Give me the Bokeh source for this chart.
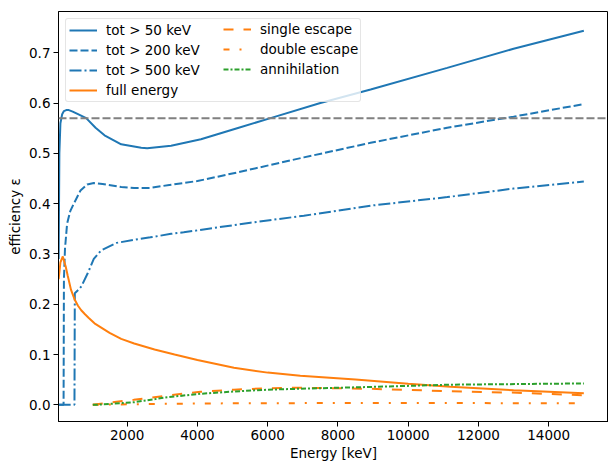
import numpy as np
from bokeh.plotting import figure
from bokeh.models import Range1d, FixedTicker, PrintfTickFormatter, Span, Legend, LegendItem
from bokeh.embed import file_html
from bokeh.resources import INLINE

# ---------------- data ----------------
e_tot50 = [50, 70, 100, 150, 200, 265, 340, 450, 600, 834, 1100, 1355, 1830, 2400, 2570,
           3250, 4100, 5130, 6080, 7500, 8930, 11110, 13000, 15000]
eff_tot50 = [0.29, 0.50, 0.56, 0.578, 0.584, 0.586, 0.586, 0.583, 0.578, 0.570, 0.551, 0.536,
             0.518, 0.511, 0.510, 0.515, 0.528, 0.550, 0.570, 0.600, 0.627, 0.670, 0.708, 0.744]

e_tot200 = [50, 190, 200, 230, 290, 380, 481, 672, 862, 1052, 1300, 1830, 2200, 2600, 3200,
            4000, 5130, 7030, 8930, 11110, 13000, 15000]
eff_tot200 = [0.0, 0.0, 0.25, 0.31, 0.36, 0.385, 0.400, 0.426, 0.438, 0.441, 0.439, 0.433,
              0.431, 0.431, 0.437, 0.445, 0.462, 0.492, 0.521, 0.551, 0.573, 0.598]

e_tot500 = [50, 500, 510, 620, 700, 880, 1050, 1260, 1700, 2200, 2660, 3250, 3610, 4500,
            5510, 7030, 8930, 11110, 13000, 15000]
eff_tot500 = [0.0, 0.0, 0.222, 0.229, 0.236, 0.262, 0.290, 0.307, 0.322, 0.328, 0.333, 0.340,
              0.343, 0.352, 0.362, 0.376, 0.396, 0.413, 0.430, 0.444]

e_full = [50, 100, 168, 250, 310, 400, 501, 600, 692, 800, 900, 1070, 1500, 1830, 2200, 2780,
          3350, 4000, 5040, 6000, 6930, 8500, 10000, 11200, 13000, 15000]
eff_full = [0.250, 0.283, 0.295, 0.275, 0.256, 0.229, 0.210, 0.197, 0.188, 0.180, 0.173,
            0.162, 0.143, 0.131, 0.122, 0.110, 0.100, 0.089, 0.0735, 0.064, 0.058, 0.0505,
            0.042, 0.036, 0.029, 0.023]

e_single = [1022, 1241, 1700, 2189, 3140, 4089, 5038, 5987, 6936, 7885, 8832, 11204, 13103, 15000]
eff_single = [0.0, 0.002, 0.006, 0.010, 0.0185, 0.026, 0.030, 0.033, 0.034, 0.033, 0.032,
              0.027, 0.024, 0.019]

e_double = [1022, 2000, 3000, 5000, 8000, 11000, 15000]
eff_double = [0.0, 0.001, 0.002, 0.003, 0.0035, 0.0035, 0.003]

e_annih = [1022, 1241, 2189, 3140, 4089, 5038, 5987, 6936, 8642, 11204, 15000]
eff_annih = [0.0, 0.0005, 0.005, 0.015, 0.022, 0.0265, 0.030, 0.032, 0.035, 0.040, 0.0425]

ref_level = 0.57

x_ticks = [2000, 4000, 6000, 8000, 10000, 12000, 14000]
y_ticks = [0.0, 0.1, 0.2, 0.3, 0.4, 0.5, 0.6, 0.7]

labels_col1 = ["tot > 50 keV", "tot > 200 keV", "tot > 500 keV", "full energy"]
labels_col2 = ["single escape", "double escape", "annihilation"]

BLUE = "#1f77b4"
ORANGE = "#ff7f0e"
GREEN = "#2ca02c"
FONT = "DejaVu Sans"
FS = "13.5px"

# ---------------- figure ----------------
W, H = 608, 464
B_LEFT, B_TOP, B_BOTTOM, B_RIGHT = 58, 11, 43, 0
p = figure(width=W, height=H, output_backend="svg", toolbar_location=None,
           x_range=Range1d(45.5, 15702), y_range=Range1d(-0.0332, 0.7821),
           min_border_left=B_LEFT, min_border_right=B_RIGHT, min_border_top=B_TOP,
           min_border_bottom=B_BOTTOM)

p.xgrid.grid_line_color = None
p.ygrid.grid_line_color = None
p.outline_line_color = "black"
p.outline_line_width = 1
p.background_fill_color = "white"
p.border_fill_color = "white"

p.xaxis.ticker = FixedTicker(ticks=x_ticks)
p.yaxis.ticker = FixedTicker(ticks=y_ticks)
p.yaxis.formatter = PrintfTickFormatter(format="%.1f")
p.axis.minor_tick_line_color = None
p.axis.major_tick_in = 0
p.axis.major_tick_out = 5
p.axis.major_tick_line_color = "black"
p.axis.axis_line_color = "black"
p.axis.major_label_text_font = FONT
p.axis.major_label_text_font_size = FS
p.axis.major_label_text_color = "black"
p.axis.axis_label_text_font = FONT
p.axis.axis_label_text_font_size = FS
p.axis.axis_label_text_font_style = "normal"
p.axis.axis_label_text_color = "black"
p.yaxis.major_label_standoff = 3
p.yaxis.axis_label_standoff = 3
p.xaxis.major_label_standoff = 3
p.xaxis.axis_label_standoff = 2
p.xaxis.axis_label = "Energy [keV]"
p.yaxis.axis_label = "efficiency ε"

r1 = p.line(e_tot50, eff_tot50, line_color=BLUE, line_width=2)
r2 = p.line(e_tot200, eff_tot200, line_color=BLUE, line_width=2, line_dash="8 3")
r3 = p.line(e_tot500, eff_tot500, line_color=BLUE, line_width=2, line_dash="12 3 2 3")
r4 = p.line(e_full, eff_full, line_color=ORANGE, line_width=2)
r5 = p.line(e_single, eff_single, line_color=ORANGE, line_width=2, line_dash="10 10")
r6 = p.line(e_double, eff_double, line_color=ORANGE, line_width=2, line_dash="6 10 2 10")
r7 = p.line(e_annih, eff_annih, line_color=GREEN, line_width=2, line_dash="5 2 2 2")

p.add_layout(Span(location=ref_level, dimension="width", line_color="gray",
                  line_width=2, line_dash="8 3"))

ITEM_H, SPACING, PAD = 16, 4, 3

def style_legend(leg):
    leg.label_text_font = FONT
    leg.label_text_font_size = FS
    leg.label_text_color = "black"
    leg.glyph_width = 28
    leg.glyph_height = ITEM_H
    leg.label_height = ITEM_H
    leg.label_standoff = 9
    leg.spacing = SPACING
    leg.padding = PAD

leg1 = Legend(items=[LegendItem(label=l, renderers=[r]) for l, r in zip(labels_col1, [r1, r2, r3, r4])],
              location="top_left", margin=7, border_line_color="#cccccc", border_line_width=1,
              background_fill_color="white", background_fill_alpha=0.8, label_width=251)
style_legend(leg1)
try:
    leg1.border_radius = 3
except Exception:
    pass

frame_h = H - B_TOP - B_BOTTOM
leg2_h = 2 * PAD + 3 * ITEM_H + 2 * SPACING
leg2 = Legend(items=[LegendItem(label=l, renderers=[r]) for l, r in zip(labels_col2, [r5, r6, r7])],
              location=(162, frame_h - 7 - leg2_h), margin=0, border_line_alpha=0,
              background_fill_alpha=0)
style_legend(leg2)
p.add_layout(leg1)
p.add_layout(leg2)

open("out.html", "w").write(file_html(p, INLINE))
